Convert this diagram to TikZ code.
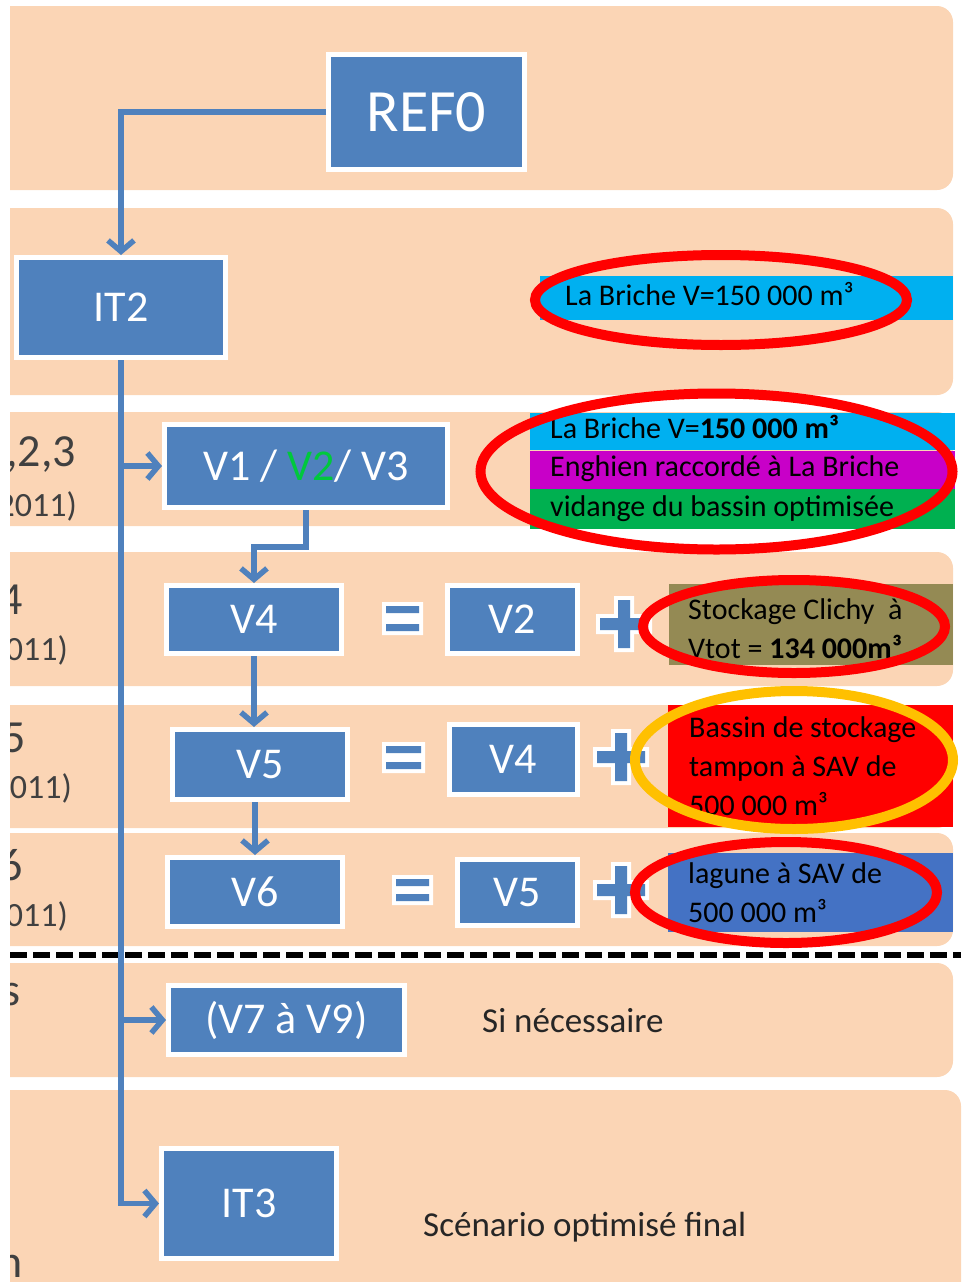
\documentclass[tikz,border=0pt]{standalone}
\usepackage{fontspec}
\setmainfont{Carlito}
\usetikzlibrary{arrows.meta,positioning}

\definecolor{peachband}{HTML}{FBD5B5}
\definecolor{stageblue}{HTML}{4F81BD}
\definecolor{notecyan}{HTML}{00B0F0}
\definecolor{notemagenta}{HTML}{C800C8}
\definecolor{notegreen}{HTML}{00B050}
\definecolor{noteolive}{HTML}{948A54}
\definecolor{notered}{HTML}{FF0000}
\definecolor{noteblue}{HTML}{4472C4}
\definecolor{ringred}{HTML}{FF0000}
\definecolor{ringorange}{HTML}{FFC000}
\definecolor{vgreen}{HTML}{00C83C}
\definecolor{textgray}{HTML}{404040}

\begin{document}
\begin{tikzpicture}[
  x=1pt, y=-1pt,
  every node/.style={
    font=\fontsize{30}{39}\selectfont,
    text=black
  },
  band/.style={
    fill=peachband,
    rounded corners=16pt
  },
  stage/.style={
    draw=white,
    line width=5pt,
    fill=stageblue,
    rectangle,
    inner sep=0pt,
    text=white,
    font=\fontsize{44}{48}\selectfont
  },
  note/.style={
    inner ysep=0pt,
    align=flush left
  },
  oneline/.style={
    text height=21pt,
    text depth=7pt
  },
  ring/.style={
    draw=ringred,
    line width=10pt
  },
  margin/.style={
    anchor=east,
    inner sep=0pt,
    text=textgray,
    font=\fontsize{46}{50}\selectfont
  },
  date/.style={
    margin,
    font=\fontsize{34}{38}\selectfont
  },
  remark/.style={
    anchor=west,
    inner sep=0pt,
    text=black!85,
    font=\fontsize{35}{40}\selectfont
  },
  arrow/.style={
    -{Straight Barb[length=11pt,width=26pt]},
    draw=stageblue,
    line width=5.5pt
  }
]
  \useasboundingbox (0,0) rectangle (961,1282);
  \clip (10,0) rectangle (961,1282);

  \fill[band] (-20,6) rectangle (953,190);
  \fill[band] (-20,208) rectangle (953,395);
  \fill[band] (-20,412) rectangle (953,526);
  \fill[band] (-20,552) rectangle (953,686);
  \fill[band] (-20,705) rectangle (953,828);
  \fill[band] (-20,833) rectangle (953,946);
  \fill[band] (-20,963) rectangle (953,1077);
  \fill[band] (-20,1090) rectangle (961,1300);
  \draw[line width=5.5pt, dash pattern=on 17pt off 6pt] (10,955) -- (961,955);

  \node[margin] (v123yr) at (76,455) {,2,3};
  \node[date] (v123date) at (77,506) {2011)};
  \node[margin] (v4yr) at (23,600) {4};
  \node[date] (v4date) at (68,650) {011)};
  \node[margin] (v5yr) at (26,738) {5};
  \node[date] (v5date) at (72,788) {011)};
  \node[margin] (v6yr) at (23,865) {6};
  \node[date] (v6date) at (68,916) {011)};
  \node[margin] (extrayr) at (21,995) {s};
  \node[margin] (finalyr) at (23,1266) {n};

  \node[stage, minimum width=196pt, minimum height=115pt,
    font=\fontsize{60}{64}\selectfont] (ref0) at (426.5,112) {REF0};
  \node[stage, minimum width=209pt, minimum height=100pt] (it2) at (121,307.5) {IT2};
  \node[stage, minimum width=283pt, minimum height=83pt] (v123) at (306,466)
    {V1 / \textcolor{vgreen}{V2}/ V3};
  \node[stage, minimum width=175pt, minimum height=68pt] (v4) at (254,619.5) {V4};
  \node[stage, minimum width=130pt, minimum height=68pt] (v4base) at (512.5,619.5) {V2};
  \node[stage, minimum width=175pt, minimum height=70pt] (v5) at (260,764.5) {V5};
  \node[stage, minimum width=128pt, minimum height=70pt] (v5base) at (513.5,759.5) {V4};
  \node[stage, minimum width=175pt, minimum height=69pt] (v6) at (255,892) {V6};
  \node[stage, minimum width=120pt, minimum height=66pt] (v6base) at (517.5,892.5) {V5};
  \node[stage, minimum width=236pt, minimum height=69pt] (v79) at (286.5,1020) {(V7 à V9)};
  \node[stage, minimum width=175pt, minimum height=110pt] (it3) at (249,1203.5) {IT3};

  \coordinate (kink) at (254,547);
  \draw[arrow] (ref0.west) -| (it2.north);
  \draw[arrow] (it2.south) |- (it3.west);
  \draw[arrow] (it2.south |- v123.west) -- (v123.west);
  \draw[arrow] (it2.south |- v79.west) -- (v79.west);
  \draw[arrow] (v123.south) |- (kink) -- (v4.north);
  \draw[arrow] (v4.south) -- (v4.south |- v5.north);
  \draw[arrow] (v6.north |- v5.south) -- (v6.north);

  \fill[white] (382,602) rectangle (423,635) (596,614) rectangle (652,634)
    (614,596) rectangle (634,652);
  \fill[stageblue] (386,606) rectangle (419,613) (386,624) rectangle (419,631)
    (600,618) rectangle (648,630) (618,600) rectangle (630,648);
  \fill[white] (382,742) rectangle (425,773) (593,747) rectangle (649,767)
    (611,729) rectangle (631,785);
  \fill[stageblue] (386,746) rectangle (421,753) (386,762) rectangle (421,769)
    (597,751) rectangle (645,763) (615,733) rectangle (627,781);
  \fill[white] (392,875) rectangle (433,905) (593,880) rectangle (649,900)
    (611,862) rectangle (631,918);
  \fill[stageblue] (396,879) rectangle (429,886) (396,894) rectangle (429,901)
    (597,884) rectangle (645,896) (615,866) rectangle (627,914);

  \node[note, oneline, anchor=west, fill=notecyan, inner xsep=25pt,
    text width=363pt, minimum height=44pt] (briche) at (540,298)
    {La Briche V=150 000 m³};
  \node[note, oneline, anchor=north west, fill=notecyan, inner xsep=20pt,
    text width=385pt, minimum height=37pt] (brichebig) at (530,413)
    {La Briche V=\textbf{150 000 m³}};
  \node[note, oneline, fill=notemagenta, inner xsep=20pt, text width=385pt,
    minimum height=38pt, below=0pt of brichebig] (enghien)
    {Enghien raccordé à La Briche};
  \node[note, oneline, fill=notegreen, inner xsep=20pt, text width=385pt,
    minimum height=40pt, below=0pt of enghien] (vidange)
    {vidange du bassin optimisée};
  \node[note, anchor=north west, fill=noteolive, inner xsep=19pt,
    text width=246pt, minimum height=81pt] (clichy) at (669,584)
    {\rule{0pt}{29pt}Stockage Clichy~ à\\Vtot = \textbf{134 000m³}};
  \node[note, anchor=north west, fill=notered, inner xsep=21pt,
    text width=243pt, minimum height=122pt] (bassin) at (668,705)
    {Bassin de stockage\\tampon à SAV de\\500 000 m³};
  \node[note, anchor=north west, fill=noteblue, inner xsep=20pt,
    text width=245pt, minimum height=79pt] (lagune) at (668,853)
    {lagune à SAV de\\500 000 m³};

  \node[remark] (ifneeded) at (482,1021) {Si nécessaire};
  \node[remark] (finalnote) at (423,1227) {Scénario optimisé final};

  \draw[ring] (721,300) ellipse [x radius=186pt, y radius=45pt];
  \draw[ring] (716.5,471.5) ellipse [x radius=236pt, y radius=78pt];
  \draw[ring] (794,626.5) ellipse [x radius=151pt, y radius=46.5pt];
  \draw[ring, draw=ringorange] (794,760) ellipse [x radius=159pt, y radius=69pt];
  \draw[ring] (786,892.5) ellipse [x radius=151pt, y radius=50.5pt];
\end{tikzpicture}
\end{document}
